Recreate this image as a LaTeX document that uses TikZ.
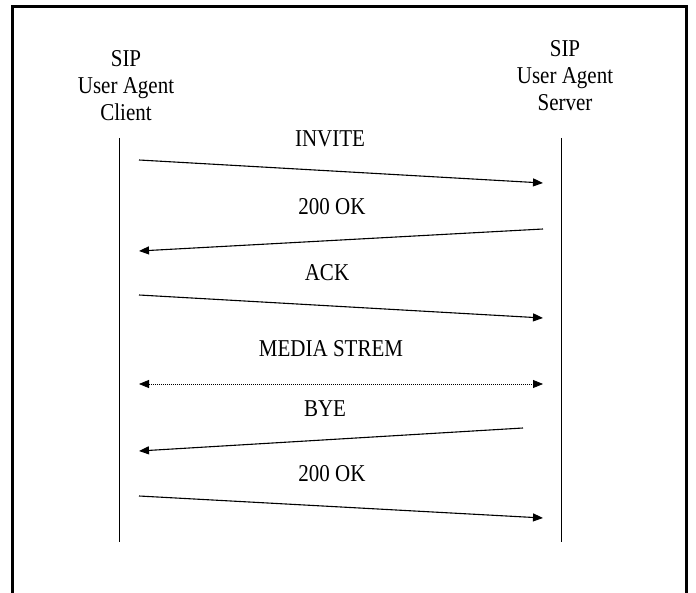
\documentclass[tikz,border=0pt]{standalone}
\usepackage{fontspec}
\setmainfont{Liberation Serif}
\usetikzlibrary{arrows.meta}

\begin{document}
\begin{tikzpicture}[x=1pt,y=-1pt]
\tikzstyle{every node}+=[inner sep=0pt]
\tikzstyle{agent}=[align=center,yscale=1.15,font=\fontsize{21}{23.5}\selectfont]
\tikzstyle{msg}=[anchor=base,yscale=1.15,font=\fontsize{21}{23.5}\selectfont]
\tikzstyle{arr}=[black,line width=1.1pt,-{Triangle[length=10pt,width=8pt]}]
\tikzstyle{life}=[black,line width=1pt]
\useasboundingbox (0,0) rectangle (696,593);
\draw [black,line width=3pt] (12.5,6.5) rectangle (686.5,620);
\node [agent] (uac) at (126,86) {SIP\\User Agent\\Client};
\node [agent] (uas) at (565,76) {SIP\\User Agent\\Server};
\coordinate (uac top) at (119,138);
\coordinate (uac bot) at (119,542);
\coordinate (uas top) at (561,138);
\coordinate (uas bot) at (561,542);
\draw [life] (uac top) -- (uac bot);
\draw [life] (uas top) -- (uas bot);
\coordinate (inv a) at (139,160);
\coordinate (inv b) at (543,183);
\coordinate (ok a) at (543,229);
\coordinate (ok b) at (139,251);
\coordinate (ack a) at (139,295);
\coordinate (ack b) at (543,318);
\coordinate (med a) at (139,384);
\coordinate (med b) at (543,384);
\coordinate (bye a) at (523,428);
\coordinate (bye b) at (139,451);
\coordinate (fin a) at (139,496);
\coordinate (fin b) at (543,518);
\node [msg] (invite) at (330,147) {INVITE};
\node [msg] (ok) at (332,215) {200 OK};
\node [msg] (ack) at (327,281) {ACK};
\node [msg] (media) at (331,357) {MEDIA STREM};
\node [msg] (bye) at (325,417) {BYE};
\node [msg] (fin) at (332,481) {200 OK};
\draw [arr] (inv a) -- (inv b);
\draw [arr] (ok a) -- (ok b);
\draw [arr] (ack a) -- (ack b);
\draw [arr,{Triangle[length=10pt,width=8pt]}-{Triangle[length=10pt,width=8pt]},line width=0.8pt,dash pattern=on 1pt off 1pt] (med a) -- (med b);
\draw [arr] (bye a) -- (bye b);
\draw [arr] (fin a) -- (fin b);
\end{tikzpicture}
\end{document}
